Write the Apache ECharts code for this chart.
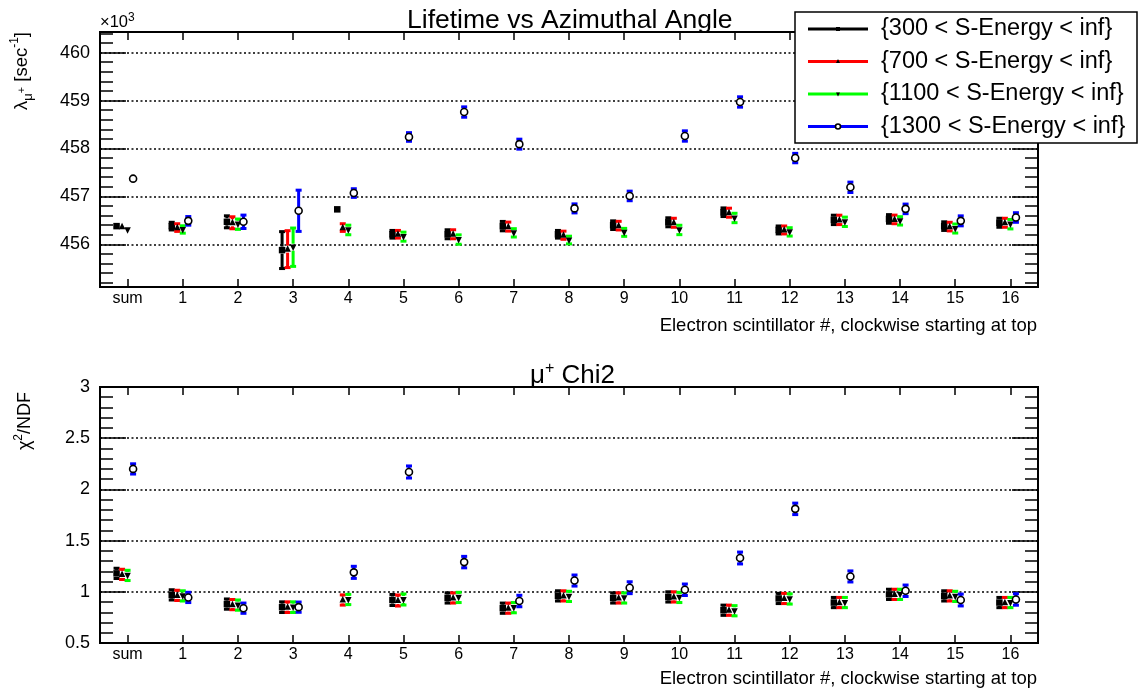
<!DOCTYPE html>
<html>
<head>
<meta charset="utf-8">
<script src="https://cdn.jsdelivr.net/npm/echarts@6/dist/echarts.min.js"></script>
<style>
  html, body { margin: 0; padding: 0; background: #fff; }
  #chart { width: 1143px; height: 692px; }
</style>
</head>
<body>
<div id="chart"></div>
<script>
// categories on the x axis (position = index)
const categories = ['sum', '1', '2', '3', '4', '5', '6', '7', '8', '9', '10', '11', '12', '13', '14', '15', '16'];
const legendLabels = ['{300 < S-Energy < inf}', '{700 < S-Energy < inf}', '{1100 < S-Energy < inf}', '{1300 < S-Energy < inf}'];

// top panel: lifetime (x10^3 sec^-1)
const life300 = [456.38, 456.38, 456.47, 455.88, 456.73, 456.21, 456.21, 456.38, 456.21, 456.40, 456.46, 456.67, 456.30, 456.51, 456.53, 456.38, 456.45];
const life300Err = [0, 0.08, 0.125, 0.385, 0, 0.08, 0.094, 0.098, 0.08, 0.09, 0.094, 0.09, 0.083, 0.098, 0.09, 0.09, 0.094];
const life700 = [456.37, 456.35, 456.45, 455.90, 456.35, 456.21, 456.21, 456.37, 456.19, 456.39, 456.45, 456.66, 456.30, 456.51, 456.52, 456.37, 456.45];
const life700Err = [0, 0.08, 0.125, 0.385, 0.08, 0.08, 0.094, 0.094, 0.085, 0.09, 0.094, 0.094, 0.083, 0.098, 0.09, 0.09, 0.094];
const life1100 = [456.30, 456.31, 456.42, 455.94, 456.30, 456.16, 456.10, 456.24, 456.09, 456.25, 456.30, 456.55, 456.26, 456.47, 456.49, 456.33, 456.42];
const life1100Err = [0, 0.077, 0.108, 0.40, 0.10, 0.094, 0.098, 0.087, 0.08, 0.083, 0.098, 0.098, 0.087, 0.098, 0.087, 0.094, 0.098];
const life1300 = [457.37, 456.49, 456.47, 456.70, 457.07, 458.24, 458.76, 458.09, 456.75, 457.01, 458.26, 458.97, 457.80, 457.19, 456.74, 456.49, 456.56];
const life1300Err = [0, 0.09, 0.14, 0.43, 0.09, 0.09, 0.108, 0.104, 0.094, 0.10, 0.108, 0.108, 0.098, 0.108, 0.10, 0.104, 0.10];

// bottom panel: chi2/ndf
const chi300 = [1.18, 0.97, 0.88, 0.85, null, 0.92, 0.94, 0.84, 0.96, 0.94, 0.95, 0.82, 0.935, 0.895, 0.975, 0.96, 0.895];
const chi300Err = [0.05, 0.05, 0.05, 0.052, 0, 0.054, 0.05, 0.05, 0.05, 0.05, 0.05, 0.05, 0.05, 0.05, 0.05, 0.05, 0.05];
const chi700 = [1.17, 0.965, 0.875, 0.85, 0.92, 0.915, 0.94, 0.84, 0.96, 0.94, 0.95, 0.82, 0.935, 0.895, 0.975, 0.96, 0.895];
const chi700Err = [0.05, 0.05, 0.05, 0.052, 0.05, 0.054, 0.05, 0.05, 0.05, 0.05, 0.05, 0.05, 0.05, 0.05, 0.05, 0.05, 0.05];
const chi1100 = [1.16, 0.96, 0.87, 0.85, 0.925, 0.925, 0.945, 0.845, 0.955, 0.94, 0.945, 0.815, 0.93, 0.895, 0.975, 0.955, 0.895];
const chi1100Err = [0.05, 0.05, 0.05, 0.052, 0.05, 0.054, 0.05, 0.05, 0.05, 0.05, 0.05, 0.05, 0.05, 0.05, 0.05, 0.05, 0.05];
const chi1300 = [2.20, 0.945, 0.84, 0.85, 1.19, 2.17, 1.29, 0.91, 1.11, 1.04, 1.02, 1.33, 1.81, 1.15, 1.01, 0.92, 0.925];
const chi1300Err = [0.05, 0.05, 0.05, 0.05, 0.059, 0.059, 0.056, 0.056, 0.054, 0.058, 0.056, 0.058, 0.056, 0.054, 0.056, 0.058, 0.056];

// axis ticks
const lifeMajor = [456, 457, 458, 459, 460];
const chiMajor = [0.5, 1, 1.5, 2, 2.5, 3];

const FONT = '"Liberation Sans", Arial, sans-serif';
const colors = ['#000000', '#ff0000', '#00ff00', '#0000ff'];
const shapes = ['square', 'triUp', 'triDown', 'circle'];
const offsets = [-0.2, -0.1, 0, 0.1];
const xPos = categories.map((c, i) => i);

function minorTicks(min, max, step) {
  const out = [];
  for (let k = Math.ceil(min / step - 1e-9); k * step <= max + 1e-9; k++) {
    out.push(+(k * step).toFixed(3));
  }
  return out;
}

function marker(shape, cx, cy, s) {
  if (shape === 'square') {
    return { type: 'rect', shape: { x: cx - s / 2, y: cy - s / 2, width: s, height: s }, style: { fill: '#000' } };
  }
  if (shape === 'triUp') {
    return { type: 'polygon', shape: { points: [[cx, cy - s * 0.6], [cx - s / 2, cy + s * 0.4], [cx + s / 2, cy + s * 0.4]] }, style: { fill: '#000' } };
  }
  if (shape === 'triDown') {
    return { type: 'polygon', shape: { points: [[cx, cy + s * 0.6], [cx - s / 2, cy - s * 0.4], [cx + s / 2, cy - s * 0.4]] }, style: { fill: '#000' } };
  }
  return { type: 'circle', shape: { cx: cx, cy: cy, r: s / 2 }, style: { fill: '#fff', stroke: '#000', lineWidth: 1.6 } };
}

function makeRender(color, shape) {
  return function (params, api) {
    const x = api.value(0);
    const y = api.value(1);
    const e = api.value(2);
    const c = api.coord([x, y]);
    const children = [];
    if (e > 0) {
      const top = api.coord([x, y + e]);
      const bot = api.coord([x, y - e]);
      const gap = 3.5;
      if (c[1] - top[1] > gap) {
        children.push({ type: 'line', shape: { x1: c[0], y1: top[1], x2: c[0], y2: c[1] - gap }, style: { stroke: color, lineWidth: 3 } });
      }
      if (bot[1] - c[1] > gap) {
        children.push({ type: 'line', shape: { x1: c[0], y1: c[1] + gap, x2: c[0], y2: bot[1] }, style: { stroke: color, lineWidth: 3 } });
      }
      children.push({ type: 'rect', shape: { x: c[0] - 3, y: top[1] - 1.5, width: 6, height: 3 }, style: { fill: color } });
      children.push({ type: 'rect', shape: { x: c[0] - 3, y: bot[1] - 1.5, width: 6, height: 3 }, style: { fill: color } });
    }
    children.push(marker(shape, c[0], c[1], shape === 'circle' ? 7 : 6.5));
    return { type: 'group', children: children };
  };
}

function buildSeries(k, vals, errs, xAxisIndex, yAxisIndex) {
  const data = [];
  vals.forEach((v, i) => {
    if (v !== null) data.push([xPos[i] + offsets[k], v, errs[i]]);
  });
  return {
    type: 'custom',
    name: legendLabels[k],
    xAxisIndex: xAxisIndex,
    yAxisIndex: yAxisIndex,
    renderItem: makeRender(colors[k], shapes[k]),
    encode: { x: 0, y: 1 },
    data: data,
    silent: true
  };
}

function xAxesFor(gridIndex) {
  const base = {
    type: 'value', gridIndex: gridIndex, min: -0.5, max: 16.5,
    axisLine: { show: false, onZero: false },
    splitLine: { show: false },
    axisTick: { inside: true, length: 8, customValues: xPos, lineStyle: { color: '#000', width: 1.5 } }
  };
  return [
    Object.assign({}, base, {
      position: 'bottom',
      axisLabel: { customValues: xPos, formatter: v => categories[v], color: '#000', fontSize: 16, fontFamily: FONT, margin: 4 }
    }),
    Object.assign({}, base, { position: 'top', axisLabel: { show: false } })
  ];
}

function yAxesFor(gridIndex, min, max, majors, minors) {
  const axes = [];
  ['left', 'right'].forEach(pos => {
    axes.push({
      type: 'value', gridIndex: gridIndex, position: pos, min: min, max: max, offset: 0,
      axisLine: { show: false, onZero: false },
      axisTick: { inside: true, length: 26, customValues: majors, lineStyle: { color: '#000', width: 1.5 } },
      axisLabel: pos === 'left'
        ? { customValues: majors, color: '#000', fontSize: 18, fontFamily: FONT, margin: 10 }
        : { show: false },
      splitLine: pos === 'left'
        ? { show: true, lineStyle: { color: '#000', type: [2, 2.5], width: 1.5 } }
        : { show: false }
    });
    axes.push({
      type: 'value', gridIndex: gridIndex, position: pos, min: min, max: max, offset: 0,
      axisLine: { show: false, onZero: false },
      axisTick: { inside: true, length: 13, customValues: minors, lineStyle: { color: '#000', width: 1.5 } },
      axisLabel: { show: false },
      splitLine: { show: false }
    });
  });
  return axes;
}

const lifeMin = 455.11, lifeMax = 460.43;
const chiMin = 0.5, chiMax = 3;

const series = [
  buildSeries(0, life300, life300Err, 0, 0),
  buildSeries(1, life700, life700Err, 0, 0),
  buildSeries(2, life1100, life1100Err, 0, 0),
  buildSeries(3, life1300, life1300Err, 0, 0),
  buildSeries(0, chi300, chi300Err, 2, 4),
  buildSeries(1, chi700, chi700Err, 2, 4),
  buildSeries(2, chi1100, chi1100Err, 2, 4),
  buildSeries(3, chi1300, chi1300Err, 2, 4)
];

// legend drawn by hand: colored line with black marker
const legendItems = [];
legendItems.push({ type: 'rect', z: 100, shape: { x: 795, y: 12, width: 342, height: 131 }, style: { fill: '#fff', stroke: '#000', lineWidth: 1.5 } });
legendLabels.forEach((label, k) => {
  const y = 29 + k * 32.5;
  legendItems.push({ type: 'line', z: 101, shape: { x1: 808, y1: y, x2: 868, y2: y }, style: { stroke: colors[k], lineWidth: 3 } });
  const m = marker(shapes[k], 838, y, shapes[k] === 'circle' ? 5 : 4);
  m.z = 102;
  legendItems.push(m);
  legendItems.push({ type: 'text', z: 101, x: 881, y: y, style: { text: label, fill: '#000', fontSize: 23.5, fontFamily: FONT, verticalAlign: 'middle', align: 'left' } });
});

const chart = echarts.init(document.getElementById('chart'), null, { renderer: 'canvas' });
chart.setOption({
  backgroundColor: '#fff',
  animation: false,
  title: [
    {
      text: 'Lifetime vs Azimuthal Angle', left: 402, top: 2,
      textStyle: { fontSize: 26.5, fontWeight: 'normal', color: '#000', fontFamily: FONT }
    },
    {
      text: '{a|μ}{s|+}{a| Chi2}', left: 525, top: 356,
      textStyle: {
        fontWeight: 'normal',
        rich: {
          a: { fontSize: 26, fontWeight: 'normal', color: '#000', fontFamily: FONT, lineHeight: 30 },
          s: { fontSize: 16, fontWeight: 'normal', color: '#000', fontFamily: FONT, verticalAlign: 'top', lineHeight: 16 }
        }
      }
    }
  ],
  grid: [
    { left: 100, top: 32, width: 938, height: 255, show: true, borderColor: '#000', borderWidth: 2, backgroundColor: 'transparent' },
    { left: 100, top: 387, width: 938, height: 256, show: true, borderColor: '#000', borderWidth: 2, backgroundColor: 'transparent' }
  ],
  xAxis: xAxesFor(0).concat(xAxesFor(1)),
  yAxis: yAxesFor(0, lifeMin, lifeMax, lifeMajor, minorTicks(lifeMin, lifeMax, 0.2))
    .concat(yAxesFor(1, chiMin, chiMax, chiMajor, minorTicks(chiMin, chiMax, 0.1))),
  series: series,
  graphic: [
    {
      type: 'text', x: 100, y: 22,
      style: {
        text: '{a|×10}{s|3}', verticalAlign: 'middle',
        rich: {
          a: { fontSize: 16.5, fill: '#000', fontFamily: FONT, lineHeight: 20 },
          s: { fontSize: 12, fill: '#000', fontFamily: FONT, verticalAlign: 'top', lineHeight: 12 }
        }
      }
    },
    {
      type: 'text', x: 22, y: 32, rotation: Math.PI / 2,
      style: {
        text: '{a|λ}{b|μ}{c|+}{a| [sec}{d|-1}{a|]}', align: 'right', verticalAlign: 'middle',
        rich: {
          a: { fontSize: 18.5, fill: '#000', fontFamily: FONT, lineHeight: 26 },
          b: { fontSize: 13, fill: '#000', fontFamily: FONT, verticalAlign: 'bottom', lineHeight: 13 },
          c: { fontSize: 11, fill: '#000', fontFamily: FONT, verticalAlign: 'middle', lineHeight: 11 },
          d: { fontSize: 12, fill: '#000', fontFamily: FONT, verticalAlign: 'top', lineHeight: 12 }
        }
      }
    },
    {
      type: 'text', x: 25, y: 392, rotation: Math.PI / 2,
      style: {
        text: '{a|χ}{d|2}{a|/NDF}', align: 'right', verticalAlign: 'middle',
        rich: {
          a: { fontSize: 18, fill: '#000', fontFamily: FONT, lineHeight: 24 },
          d: { fontSize: 12, fill: '#000', fontFamily: FONT, verticalAlign: 'top', lineHeight: 12 }
        }
      }
    },
    {
      type: 'text', x: 1037, y: 326,
      style: { text: 'Electron scintillator #, clockwise starting at top', align: 'right', verticalAlign: 'middle', fontSize: 18.5, fill: '#000', fontFamily: FONT }
    },
    {
      type: 'text', x: 1037, y: 679,
      style: { text: 'Electron scintillator #, clockwise starting at top', align: 'right', verticalAlign: 'middle', fontSize: 18.5, fill: '#000', fontFamily: FONT }
    },
    { type: 'group', z: 100, children: legendItems }
  ]
});
</script>
</body>
</html>
